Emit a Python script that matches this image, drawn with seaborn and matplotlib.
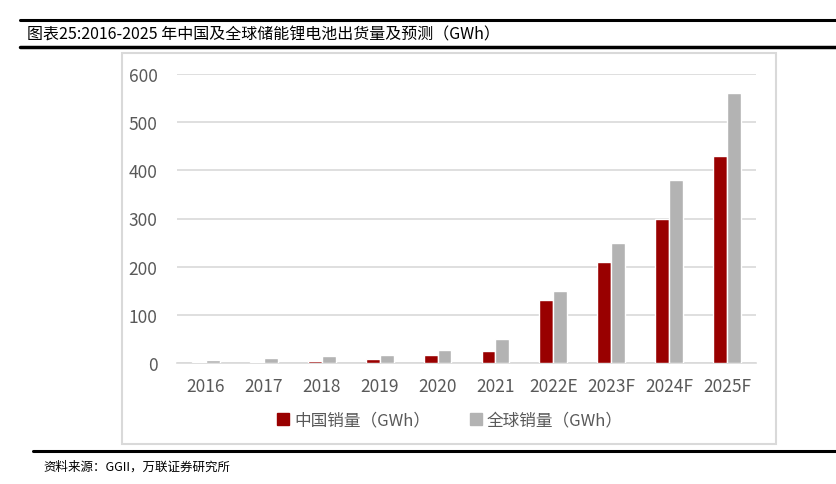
import matplotlib
matplotlib.use("Agg")
import matplotlib.pyplot as plt
import matplotlib.patches as mpatches
from matplotlib.lines import Line2D
import seaborn as sns
import pandas as pd

years = ['2016', '2017', '2018', '2019', '2020', '2021', '2022E', '2023F', '2024F', '2025F']
china = [3, 3, 5, 8, 16, 24, 130, 210, 300, 430]
world = [6, 10, 14, 16, 26, 50, 150, 250, 380, 560]
series_names = ['中国销量（GWh）', '全球销量（GWh）']
colors = ['#990000', '#B3B3B3']

df = pd.DataFrame({
    'year': years * 2,
    'value': china + world,
    'series': [series_names[0]] * len(years) + [series_names[1]] * len(years),
})

sns.set_theme(style='white')
plt.rcParams['font.family'] = ['Noto Sans CJK SC', 'DejaVu Sans']

W, H = 837, 485
fig = plt.figure(figsize=(W / 100, H / 100), dpi=100)
ax = fig.add_axes([177 / W, (H - 364) / H, 579 / W, 289 / H])

sns.barplot(data=df, x='year', y='value', hue='series', palette=colors,
            width=0.48, gap=0, ax=ax, legend=False, saturation=1, zorder=3)

ax.set_ylim(0, 600)
ax.set_yticks(range(0, 601, 100))
ax.set_xlim(-0.5, len(years) - 0.5)
ax.yaxis.grid(True, color='#D9D9D9', linewidth=1.2)
ax.set_axisbelow(True)
for s in ['left', 'right', 'top']:
    ax.spines[s].set_visible(False)
ax.spines['bottom'].set_color('#D9D9D9')
ax.spines['bottom'].set_linewidth(1.2)
ax.spines['bottom'].set_zorder(1)
ax.tick_params(axis='y', length=0, pad=14, labelsize=12.5, labelcolor='#595959')
ax.tick_params(axis='x', length=0, pad=10, labelsize=12.5, labelcolor='#595959')
ax.set_xlabel('')
ax.set_ylabel('')

# legend
handles = [mpatches.Patch(color=c, label=n) for c, n in zip(colors, series_names)]
fig.legend(handles=handles, loc='center', bbox_to_anchor=(450 / W, (H - 421) / H),
           ncol=2, frameon=False, fontsize=12, handlelength=0.7, handleheight=0.7,
           handletextpad=0.3, columnspacing=2.4, labelcolor='#595959')

# chart frame
fig.patches.append(mpatches.Rectangle((122 / W, (H - 445) / H), 654 / W, 391 / H,
                                      transform=fig.transFigure, fill=False,
                                      edgecolor='#D9D9D9', linewidth=1.5))

# report rules
for y, x0, lw in [(21, 20, 2.2), (48, 20, 2.5), (452, 33, 2.2)]:
    fig.add_artist(Line2D([x0 / W, 1], [(H - y) / H] * 2, transform=fig.transFigure,
                          color='black', linewidth=lw))

fig.text(27 / W, (H - 35) / H, '图表25:2016-2025 年中国及全球储能锂电池出货量及预测（GWh）',
         fontsize=11.5, va='center', ha='left', color='black')
fig.text(43 / W, (H - 467) / H, '资料来源：GGII，万联证券研究所',
         fontsize=9, va='center', ha='left', color='black', style='italic')

fig.savefig('out.png', dpi=100)
